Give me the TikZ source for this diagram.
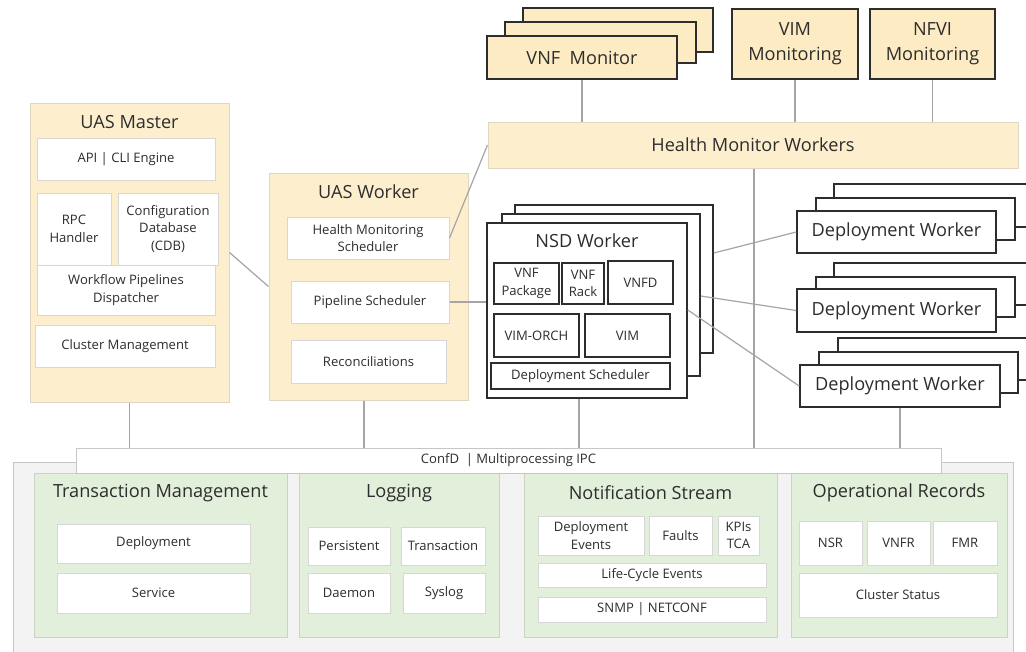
\documentclass[tikz,border=0pt]{standalone}
\usepackage{fontspec}
\setmainfont{Open Sans}
\usetikzlibrary{positioning,fit}

\newcommand\bigtxt{\fontsize{13.6}{18.5}\selectfont}
\newcommand\smalltxt{\fontsize{9.8}{13.2}\selectfont}

\definecolor{peach}{RGB}{253,239,206}
\definecolor{peachline}{RGB}{224,214,194}
\definecolor{monfill}{RGB}{253,235,195}
\definecolor{greenfill}{RGB}{226,239,218}
\definecolor{greenline}{RGB}{200,212,196}
\definecolor{greyfill}{RGB}{243,243,243}
\definecolor{greyline}{RGB}{198,198,198}
\definecolor{boxline}{RGB}{215,215,215}
\definecolor{linkgrey}{RGB}{165,165,165}
\definecolor{darkline}{RGB}{45,45,45}
\definecolor{txt}{RGB}{45,45,45}

\tikzset{every picture/.style={line width=0.75pt}}
\tikzset{
  smalllbl/.style={align=center, font=\smalltxt, text=txt, inner sep=0pt},
  biglbl/.style={align=center, font=\bigtxt, text=txt, inner sep=0pt},
  panel/.style={draw=peachline, fill=peach, inner sep=0pt},
  hmwbar/.style={draw=peachline, fill=peach, inner sep=0pt, label={[biglbl]center:#1}},
  greenpanel/.style={draw=greenline, fill=greenfill, inner sep=0pt},
  title/.style={font=\bigtxt, text=txt, inner sep=0pt},
  wbox/.style={draw=boxline, fill=white, inner sep=0pt, label={[smalllbl]center:#1}},
  nbox/.style={draw=darkline, fill=white, line width=1pt, inner sep=0pt, label={[smalllbl]center:#1}},
  monbox/.style={draw=darkline, fill=monfill, line width=1.2pt, inner sep=0pt, label={[biglbl]center:#1}},
  monbox/.default={},
  workbox/.style={draw=darkline, fill=white, line width=1.2pt, inner sep=0pt, label={[biglbl]center:#1}},
  workbox/.default={},
  link/.style={draw=linkgrey, line width=0.9pt}
}

\begin{document}
\begin{tikzpicture}[x=0.75pt,y=0.75pt,yscale=-1,xscale=1]
	\clip (0,0) rectangle (1026,651);
	\fill[white] (0,0) rectangle (1026,651);

	% monitors on top
	\node[monbox, fit={(523,8) (713,52)}] (vnfb2) {};
	\node[monbox, fit={(505,22) (696,63)}] (vnfb1) {};
	\node[monbox={VNF\ \ Monitor}, fit={(487,36) (677,79)}] (vnfmon) {};
	\node[monbox={VIM\\Monitoring}, fit={(732,9) (858,79)}] (vimmon) {};
	\node[monbox={NFVI\\Monitoring}, fit={(870,9) (995,79)}] (nfvimon) {};

	\node[hmwbar={Health Monitor Workers}, fit={(488,122) (1018,168)}] (hmw) {};

	\draw[link] (vnfmon) -- (hmw.north -| vnfmon.south);
	\draw[link] (vimmon) -- (hmw.north -| vimmon.south);
	\draw[link] (nfvimon) -- (hmw.north -| nfvimon.south);

	% UAS Master
	\node[panel, fit={(30,103) (229,402)}] (master) {};
	\node[title] (mastertitle) at (129.5,122) {UAS Master};
	\node[wbox={API | CLI Engine}, fit={(37,138) (215,180)}] (api) {};
	\node[wbox={RPC\\Handler}, fit={(37,193) (111,265)}] (rpc) {};
	\node[wbox={Configuration\\Database\\(CDB)}, fit={(118,193) (218,265)}] (cdb) {};
	\node[wbox={Workflow Pipelines\\Dispatcher}, fit={(37,265) (215,315)}] (dispatch) {};
	\node[wbox={Cluster Management}, fit={(35,325) (215,367)}] (cluster) {};

	% UAS Worker
	\node[panel, fit={(269,173) (468,400)}] (worker) {};
	\node[title] (workertitle) at (368.5,192) {UAS Worker};
	\node[wbox={Health Monitoring\\Scheduler}, fit={(287,217) (449,259)}] (hms) {};
	\node[wbox={Pipeline Scheduler}, fit={(291,281) (449,323)}] (pipe) {};
	\node[wbox={Reconciliations}, fit={(291,340) (446,383)}] (recon) {};

	% NSD Worker
	\node[workbox, fit={(515,205) (713,353)}] (nsdb2) {};
	\node[workbox, fit={(502,214) (700,376)}] (nsdb1) {};
	\node[workbox, fit={(487,223) (687,398)}] (nsd) {};
	\node[title] (nsdtitle) at (587,241) {NSD Worker};
	\node[nbox={VNF\\Package}, fit={(494,263) (559,304)}] (vnfpkg) {};
	\node[nbox={VNF\\Rack}, fit={(562,263) (604,304)}] (vnfrack) {};
	\node[nbox={VNFD}, fit={(608,261) (673,304)}] (vnfd) {};
	\node[nbox={VIM-ORCH}, fit={(494,314) (579,357)}] (vimorch) {};
	\node[nbox={VIM}, fit={(585,314) (670,357)}] (vim) {};
	\node[nbox={Deployment Scheduler}, fit={(491,363) (670,389)}] (dsched) {};

	% Deployment Workers
	\node[workbox, fit={(834,184) (1045,227)}] (dw1b2) {};
	\node[workbox, fit={(816,198) (1015,240)}] (dw1b1) {};
	\node[workbox={Deployment Worker}, fit={(797,211) (996,253)}] (dw1) {};
	\node[workbox, fit={(834,263) (1045,305)}] (dw2b2) {};
	\node[workbox, fit={(816,277) (1015,317)}] (dw2b1) {};
	\node[workbox={Deployment Worker}, fit={(797,289) (996,332)}] (dw2) {};
	\node[workbox, fit={(838,338) (1045,380)}] (dw3b2) {};
	\node[workbox, fit={(819,352) (1018,393)}] (dw3b1) {};
	\node[workbox={Deployment Worker}, fit={(800,365) (1000,407)}] (dw3) {};

	% bottom layer
	\node[draw=greyline, fill=greyfill, inner sep=0pt, fit={(13,462) (1013,660)}] (base) {};
	\node[greenpanel, fit={(34,473) (287,637)}] (trans) {};
	\node[title] (transtitle) at (160.5,493) {Transaction Management};
	\node[wbox={Deployment}, fit={(57,524) (250,563)}] (tdeploy) {};
	\node[wbox={Service}, fit={(57,573) (250,613)}] (tservice) {};

	\node[greenpanel, fit={(299,473) (499,637)}] (logging) {};
	\node[title] (logtitle) at (399,493) {Logging};
	\node[wbox={Persistent}, fit={(308,527) (390,565)}] (persist) {};
	\node[wbox={Transaction}, fit={(401,527) (485,565)}] (ltrans) {};
	\node[wbox={Daemon}, fit={(308,573) (390,613)}] (daemon) {};
	\node[wbox={Syslog}, fit={(403,573) (485,613)}] (syslog) {};

	\node[greenpanel, fit={(524,473) (777,637)}] (notif) {};
	\node[title] (notiftitle) at (650.5,493) {Notification Stream};
	\node[wbox={Deployment\\Events}, fit={(538,516) (644,555)}] (devents) {};
	\node[wbox={Faults}, fit={(649,516) (712,555)}] (faults) {};
	\node[wbox={KPIs\\TCA}, fit={(718,516) (759,555)}] (kpis) {};
	\node[wbox={Life-Cycle Events}, fit={(538,563) (766,587)}] (lifecycle) {};
	\node[wbox={SNMP | NETCONF}, fit={(538,597) (766,622)}] (snmp) {};

	\node[greenpanel, fit={(791,473) (1007,637)}] (records) {};
	\node[title] (recordstitle) at (899,493) {Operational Records};
	\node[wbox={NSR}, fit={(799,521) (862,565)}] (nsr) {};
	\node[wbox={VNFR}, fit={(867,521) (930,565)}] (vnfr) {};
	\node[wbox={FMR}, fit={(933,521) (997,565)}] (fmr) {};
	\node[wbox={Cluster Status}, fit={(799,573) (997,617)}] (cstatus) {};

	\node[draw=greyline, fill=white, inner sep=0pt, label={[smalllbl]center:ConfD\ \ |\ Multiprocessing IPC}, fit={(76,448) (941,473)}] (confd) {};

	% connectors
	\draw[link] (master.east) -- (worker.west);
	\draw[link] (hms.east) -- (hmw.west);
	\draw[link] (pipe.east) -- (pipe.east -| nsd.west);
	\draw[link] (nsdb2.east |- 0,253) -- (dw1.west);
	\draw[link] (nsdb1.east |- 0,296) -- (dw2.west);
	\draw[link] (nsd.east |- 0,310) -- (dw3.west);
	\draw[link] (master.south) -- (confd.north -| master.south);
	\draw[link] (worker.south -| 364,0) -- (confd.north -| 364,0);
	\draw[link] (nsd.south -| 579,0) -- (confd.north -| 579,0);
	\draw[link] (hmw.south -| 754,0) -- (confd.north -| 754,0);
	\draw[link] (dw3.south) -- (confd.north -| dw3.south);
\end{tikzpicture}
\end{document}
